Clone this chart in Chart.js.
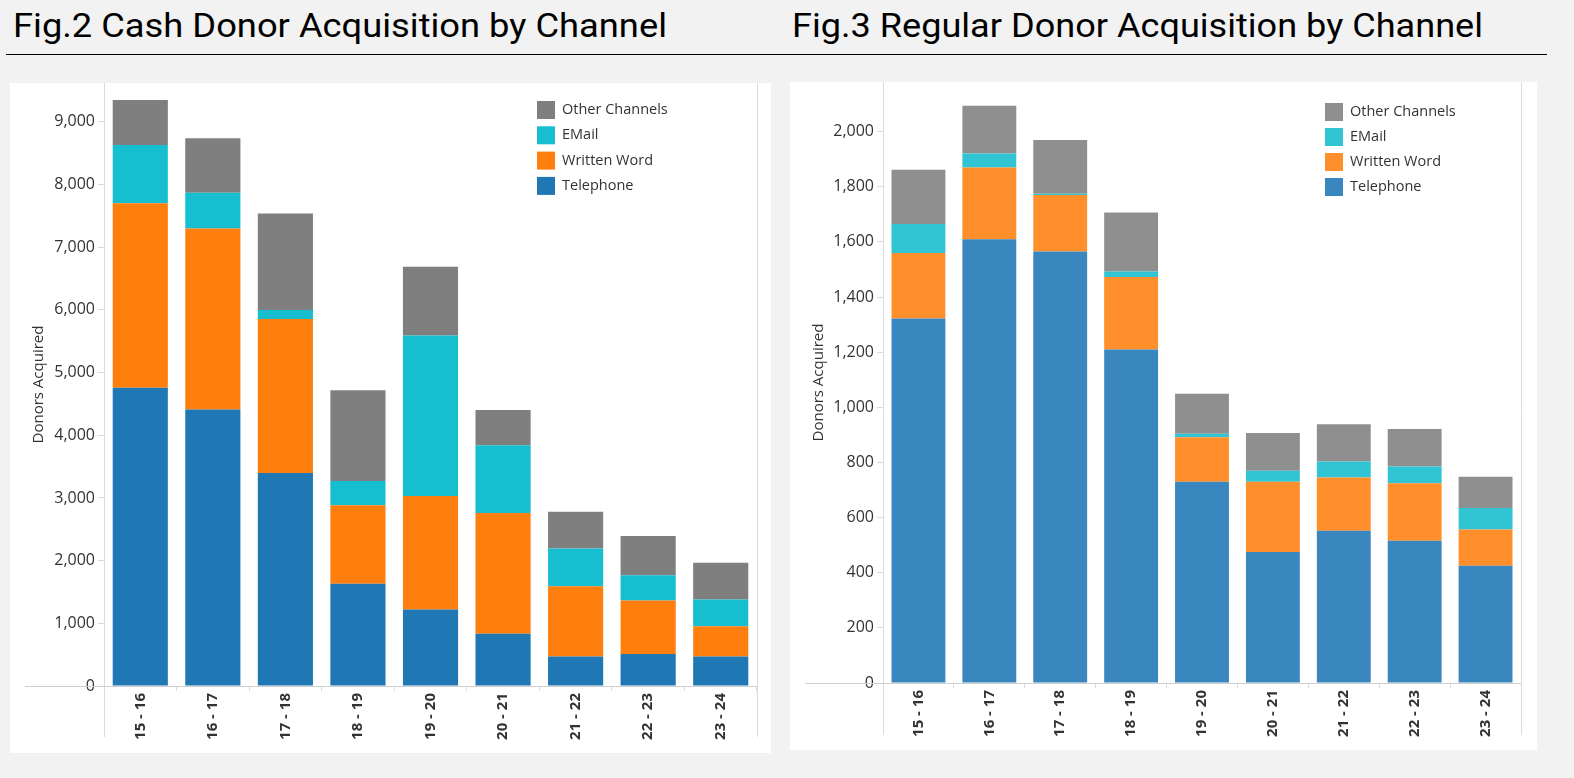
<!DOCTYPE html>
<html>
<head>
<meta charset="utf-8">
<script src="https://cdn.jsdelivr.net/npm/chart.js@4"></script>
<style>
  html, body { margin: 0; padding: 0; background: #f2f2f2; width: 1574px; height: 778px; overflow: hidden; }
  .title { position: absolute; font-family: Roboto, "Noto Sans", sans-serif; font-size: 34px; color: #000; white-space: nowrap; line-height: 1; transform-origin: 0 0; }
  .rule { position: absolute; left: 6px; top: 54px; width: 1541px; height: 1px; background: #000; }
  .panel { position: absolute; background: #fff; }
</style>
</head>
<body>
<div class="title" id="t1" style="left:13px; top:8px;">Fig.2 Cash Donor Acquisition by Channel</div>
<div class="title" id="t2" style="left:792px; top:8px;">Fig.3 Regular Donor Acquisition by Channel</div>
<div class="rule"></div>
<div class="panel" style="left:10px; top:83px; width:761px; height:670px;"><canvas id="c1"></canvas></div>
<div class="panel" style="left:790px; top:82px; width:747px; height:668px;"><canvas id="c2"></canvas></div>
<script>
// ---- data ----
const categories = ['15 - 16', '16 - 17', '17 - 18', '18 - 19', '19 - 20', '20 - 21', '21 - 22', '22 - 23', '23 - 24'];
const seriesNames = ['Telephone', 'Written Word', 'EMail', 'Other Channels'];

const cashTelephone   = [4760, 4410, 3400, 1630, 1220, 835, 470, 510, 470];
const cashWrittenWord = [2940, 2890, 2455, 1255, 1810, 1925, 1120, 855, 485];
const cashEmail       = [930, 570, 145, 385, 2560, 1080, 605, 400, 425];
const cashOther       = [720, 870, 1540, 1450, 1100, 565, 585, 630, 585];

const regTelephone   = [1322, 1610, 1565, 1210, 730, 475, 552, 516, 425];
const regWrittenWord = [238, 260, 205, 263, 161, 255, 193, 209, 132];
const regEmail       = [105, 51, 5, 20, 13, 40, 58, 60, 78];
const regOther       = [197, 173, 195, 214, 145, 137, 136, 136, 113];

const cashTicks = [0, 1000, 2000, 3000, 4000, 5000, 6000, 7000, 8000, 9000];
const regTicks  = [0, 200, 400, 600, 800, 1000, 1200, 1400, 1600, 1800, 2000];

const yTitle = 'Donors Acquired';

// ---- title widths (layout only) ----
function fitTitle(id, w) {
  const el = document.getElementById(id);
  const cur = el.getBoundingClientRect().width;
  el.style.transform = 'scaleX(' + (w / cur) + ')';
}
fitTitle('t1', 654);
fitTitle('t2', 691);

// ---- styling ----
const cashColors = ['#1f77b4', '#ff7f0e', '#17becf', '#7f7f7f'];
const regColors  = ['#3a87bf', '#ff8f2a', '#31c5d3', '#8f8f8f'];
const tickFont = { family: '"Open Sans", sans-serif', size: 16 };
const lineColor = '#dcdcdc';

function framePlugin(cfg) {
  return {
    id: 'frame',
    afterDraw(chart) {
      const { ctx, chartArea: a } = chart;
      ctx.save();
      ctx.strokeStyle = lineColor;
      ctx.lineWidth = 1;
      ctx.beginPath();
      ctx.moveTo(Math.round(a.left) + 0.5, 0);
      ctx.lineTo(Math.round(a.left) + 0.5, cfg.dividerBottom);
      ctx.moveTo(Math.round(a.right) + 0.5, 0);
      ctx.lineTo(Math.round(a.right) + 0.5, cfg.dividerBottom);
      ctx.stroke();
      ctx.strokeStyle = '#cfcfcf';
      ctx.beginPath();
      ctx.moveTo(cfg.axisStart, Math.round(a.bottom) + 0.5);
      ctx.lineTo(a.right, Math.round(a.bottom) + 0.5);
      ctx.stroke();
      // legend (reverse order of stack)
      ctx.font = '14.5px "Open Sans", sans-serif';
      ctx.textBaseline = 'middle';
      ctx.textAlign = 'left';
      const ds = chart.data.datasets.slice().reverse();
      ds.forEach((d, i) => {
        const y = cfg.legendY + i * cfg.legendStep;
        ctx.fillStyle = d.backgroundColor;
        ctx.fillRect(cfg.legendX, y - 9, 18, 18);
        ctx.fillStyle = '#333';
        ctx.fillText(d.label, cfg.legendX + 25, y);
      });
      ctx.restore();
    }
  };
}

function makeChart(id, series, colors, ticks, yMax, yWidth, padRight, cfg) {
  const datasets = series.map((vals, i) => ({
    label: seriesNames[i],
    data: vals,
    backgroundColor: colors[i],
    borderWidth: 0,
    barPercentage: 0.76,
    categoryPercentage: 1.0
  }));
  return new Chart(document.getElementById(id), {
    type: 'bar',
    data: { labels: categories, datasets },
    options: {
      responsive: true,
      maintainAspectRatio: false,
      animation: false,
      layout: { padding: { left: 0, right: padRight, top: 0, bottom: 0 } },
      plugins: { legend: { display: false }, tooltip: { enabled: false } },
      scales: {
        x: {
          stacked: true,
          afterFit(s) { s.height = cfg.xHeight; s.paddingLeft = 0; s.paddingRight = 0; },
          grid: { display: true, drawOnChartArea: false, drawTicks: true, tickLength: 5, color: lineColor, offset: true },
          border: { display: false },
          ticks: {
            autoSkip: false, minRotation: 90, maxRotation: 90, padding: 2,
            color: '#333', font: { family: '"Open Sans", sans-serif', size: 15, weight: 'bold' }
          }
        },
        y: {
          stacked: true,
          min: 0, max: yMax,
          afterFit(s) { s.width = yWidth; s.paddingTop = 0; s.paddingBottom = 0; },
          afterBuildTicks(s) { s.ticks = ticks.map(v => ({ value: v })); },
          grid: { display: true, drawOnChartArea: false, drawTicks: true, tickLength: 6, color: lineColor },
          border: { display: false },
          title: { display: true, text: yTitle, color: '#333', font: { family: '"Open Sans", sans-serif', size: 15 }, padding: { top: cfg.titlePad, bottom: 0 } },
          ticks: {
            padding: 3, color: '#333', font: tickFont,
            callback: v => v.toLocaleString('en-US')
          }
        }
      }
    },
    plugins: [framePlugin(cfg)]
  });
}

makeChart('c1', [cashTelephone, cashWrittenWord, cashEmail, cashOther], cashColors, cashTicks, 9620, 94, 14,
  { xHeight: 67, dividerBottom: 654, axisStart: 15, legendX: 527, legendY: 27, legendStep: 25.3, titlePad: 20 });
makeChart('c2', [regTelephone, regWrittenWord, regEmail, regOther], regColors, regTicks, 2180, 93, 16,
  { xHeight: 67, dividerBottom: 653, axisStart: 15, legendX: 535, legendY: 30, legendStep: 25, titlePad: 20 });
</script>
</body>
</html>
